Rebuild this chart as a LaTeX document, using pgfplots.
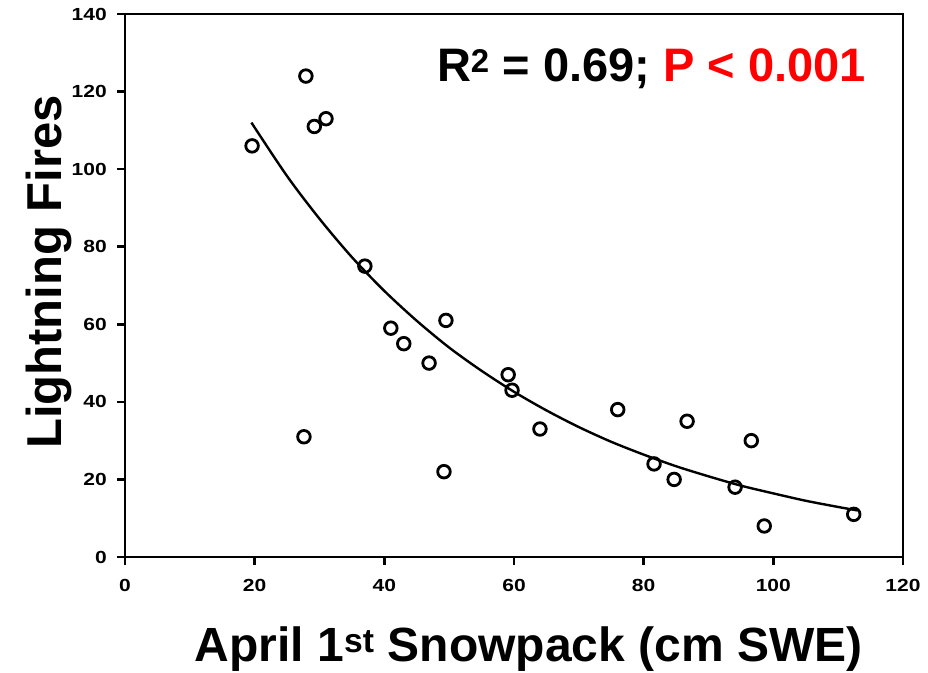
\documentclass[border=0pt]{standalone}
\usepackage{fontspec}
\setmainfont{Liberation Sans}
\usepackage{pgfplots}
\pgfplotsset{compat=1.18}

\begin{document}
\begin{tikzpicture}
\useasboundingbox (-125pt,-115pt) rectangle (803pt,557pt);
\begin{axis}[
  scale only axis,
  width=778pt, height=543pt,
  xmin=0, xmax=120, ymin=0, ymax=140,
  xtick={0,20,...,120}, ytick={0,20,...,140},
  tick align=outside, xtick pos=bottom, ytick pos=left,
  major tick length=8pt,
  axis line style={line width=2.8pt},
  every tick/.style={black, line width=2.5pt},
  /pgf/number format/assume math mode=true,
  tick label style={font=\fontsize{17.5}{20}\selectfont\bfseries, xscale=1.2},
  xticklabel style={yshift=-11pt},
  yticklabel style={xshift=-5pt},
  clip=false,
  xlabel={April 1\textsuperscript{st} Snowpack (cm SWE)},
  ylabel={Lightning Fires},
  every axis x label/.style={at={(axis description cs:0.519,-0.192)}, anchor=base,
    font=\fontsize{48}{56}\selectfont\bfseries},
  every axis y label/.style={at={(axis description cs:-0.081,0.525)}, rotate=90, anchor=base,
    font=\fontsize{49}{56}\selectfont\bfseries},
]
% fitted curve
\addplot[black, line width=2.4pt, smooth, mark=none] coordinates {
  (19.5,112) (25,98.2) (30,87.2) (35,77.3) (40,68.6) (45,60.9) (50,54.0)
  (55,48.0) (60,42.6) (65,37.8) (70,33.5) (75,29.7) (80,26.4) (85,23.4)
  (90,20.8) (95,18.4) (100,16.4) (105,14.5) (110,12.9) (113,12.0)
};
% observations
\addplot[only marks, mark=o, mark size=6.3pt, line width=2.8pt, black, mark options={fill=white}] coordinates {
  (19.6,106) (27.9,124) (29.2,111) (31.0,113) (27.6,31) (37.0,75)
  (41.0,59) (43.0,55) (46.9,50) (49.5,61) (49.2,22) (59.1,47)
  (59.7,43) (64.0,33) (76.0,38) (81.6,24) (84.7,20) (86.7,35)
  (96.6,30) (94.1,18) (98.6,8) (112.4,11)
};
\node[anchor=base west, font=\fontsize{47}{54}\selectfont\bfseries, inner sep=0pt]
  at (axis cs:48.1,122.5) {R\textsuperscript{2} = 0.69; \textcolor{red}{P < 0.001}};
\end{axis}
\end{tikzpicture}
\end{document}
